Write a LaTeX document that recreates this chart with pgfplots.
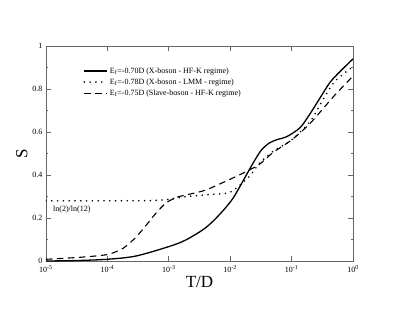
\documentclass[border=0pt]{standalone}
\usepackage{pgfplots}
\pgfplotsset{compat=1.18}
\usepackage{fontspec}
\setmainfont{Liberation Serif}
\begin{document}
\begin{tikzpicture}
\path[use as bounding box] (-46pt,-55pt) rectangle (363pt,261pt);
\begin{axis}[
  at={(0,0)}, anchor=south west,
  scale only axis, width=307pt, height=215pt,
  xmode=log, log basis x=10,
  xmin=1e-5, xmax=1, ymin=0, ymax=1,
  axis line style={draw=black!60, line width=0.8pt},
  tick style={draw=black!60, line width=0.6pt},
  major tick length=5pt, minor tick length=2.5pt,
  tick align=inside,
  xtick={1e-5,1e-4,1e-3,1e-2,1e-1,1},
  ytick={0,0.2,0.4,0.6,0.8,1},
  minor ytick={0.1,0.3,0.5,0.7,0.9},
  xticklabel={\pgfmathparse{int(round(\tick))}10\textsuperscript{\pgfmathresult}},
  xticklabel style={yshift=-1pt},
  yticklabel style={/pgf/number format/assume math mode=true, /pgf/number format/fixed},
  ticklabel style={font=\fontsize{8}{9}\selectfont},
  xlabel={T/D}, ylabel={S},
  label style={font=\fontsize{17}{18}\selectfont},
  xlabel style={yshift=3pt},
  ylabel style={yshift=-2pt},
  legend style={draw=none, fill=none, at={(0.118,0.915)}, anchor=north west,
    font=\fontsize{8}{9}\selectfont, row sep=0pt, inner sep=1pt},
  legend cell align=left,
  legend image code/.code={\draw[#1] plot coordinates {(0cm,0cm) (0.4cm,0cm) (0.8cm,0cm)};},
]
\addplot[black, line width=1.3pt, smooth] coordinates {
(1e-5,0.0) (3e-5,0.002) (1e-4,0.008) (2.9e-4,0.023) (1e-3,0.067) (1.9e-3,0.098) (4e-3,0.155)
(7e-3,0.222) (1.1e-2,0.29) (1.6e-2,0.37) (2.3e-2,0.45) (3.2e-2,0.515) (4.4e-2,0.55) (6e-2,0.566) (8.3e-2,0.578)
(1.37e-1,0.62) (2e-1,0.685) (2.9e-1,0.758) (4.2e-1,0.83) (6.1e-1,0.88) (1,0.94)};
\addlegendentry{E\textsubscript{f}=-0.70D (X-boson - HF-K regime)}
\addplot[black, line width=1.8pt, dash pattern=on 0pt off 5.8pt, line cap=round, smooth, tension=0.4] coordinates {
(1e-5,0.28) (1e-4,0.28) (5e-4,0.281) (1e-3,0.287) (2e-3,0.30) (5e-3,0.31)
(1e-2,0.32) (2e-2,0.39) (3e-2,0.455) (5e-2,0.51) (1e-1,0.563) (2e-1,0.648)
(3e-1,0.733) (5e-1,0.834) (1,0.904)};
\addlegendentry{E\textsubscript{f}=-0.78D (X-boson - LMM - regime)}
\addplot[black, line width=1.1pt, dash pattern=on 6.5pt off 4.5pt, smooth, tension=0.4] coordinates {
(1e-5,0.008) (3.5e-5,0.017) (1e-4,0.03) (1.8e-4,0.059) (2.9e-4,0.11) (4.3e-4,0.167) (6.2e-4,0.223)
(9e-4,0.27) (1.3e-3,0.295) (1.9e-3,0.307) (4e-3,0.33) (1.1e-2,0.386) (1.8e-2,0.415)
(3e-2,0.45) (5e-2,0.505) (1e-1,0.563) (2e-1,0.64) (5e-1,0.77) (1,0.86)};
\addlegendentry{E\textsubscript{f}=-0.75D (Slave-boson - HF-K regime)}
\node[anchor=west, font=\fontsize{8}{9}\selectfont, inner sep=0pt] at (axis cs:1.3e-5,0.24) {ln(2)/ln(12)};
\end{axis}
\end{tikzpicture}
\end{document}
